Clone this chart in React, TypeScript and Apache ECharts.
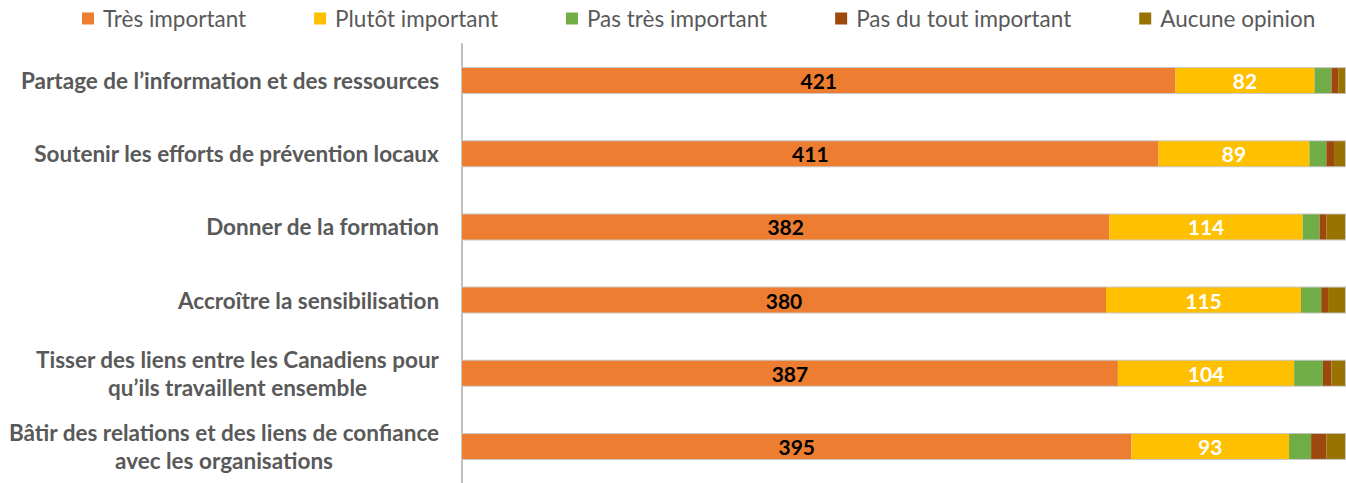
import React, { useEffect, useRef } from "react";
import * as echarts from "echarts";

const categories = [
  "Partage de l’information et des ressources",
  "Soutenir les efforts de prévention locaux",
  "Donner de la formation",
  "Accroître la sensibilisation",
  "Tisser des liens entre les Canadiens pour\nqu’ils travaillent ensemble",
  "Bâtir des relations et des liens de confiance\navec les organisations",
];

const seriesNames = [
  "Très important",
  "Plutôt important",
  "Pas très important",
  "Pas du tout important",
  "Aucune opinion",
];

const tresImportant = [421, 411, 382, 380, 387, 395];
const plutotImportant = [82, 89, 114, 115, 104, 93];
const pasTresImportant = [10, 10, 10, 12, 17, 13];
const pasDuToutImportant = [4, 5, 4, 4, 5, 9];
const aucuneOpinion = [4, 6, 11, 10, 8, 11];

const colors = ["#ED7D31", "#FFC000", "#70AD47", "#9E480E", "#997300"];
const FONT = "Lato";
const LABEL_SIZE = 22.5;

export default function App() {
  const ref = useRef<HTMLDivElement>(null);

  useEffect(() => {
    if (!ref.current) return;
    const chart = echarts.init(ref.current, undefined, { renderer: "svg" });

    const canvas = document.createElement("canvas");
    const ctx = canvas.getContext("2d")!;
    ctx.font = `bold ${LABEL_SIZE}px ${FONT}`;
    const rich: Record<string, any> = {};
    categories.forEach((c, i) => {
      const w = Math.max(...c.split("\n").map((l) => ctx.measureText(l).width));
      rich["c" + i] = {
        width: Math.ceil(w) + 1,
        align: "center",
        fontFamily: FONT,
        fontWeight: "bold",
        fontSize: LABEL_SIZE,
        color: "#595959",
        lineHeight: 28,
      };
    });

    const dataSets = [tresImportant, plutotImportant, pasTresImportant, pasDuToutImportant, aucuneOpinion];
    const total = tresImportant.map((_, i) => dataSets.reduce((s, d) => s + d[i], 0));
    const maxTotal = Math.max(...total);

    chart.setOption({
      animation: false,
      color: colors,
      legend: {
        top: 2,
        left: 77,
        width: 1265,
        itemWidth: 12,
        itemHeight: 12,
        itemGap: 68,
        icon: "rect",
        textStyle: { fontFamily: FONT, fontSize: 22.5, color: "#595959", padding: [0, 0, 0, 4] },
        data: seriesNames,
      },
      grid: { left: 462, right: 1, top: 44, height: 441, containLabel: false },
      xAxis: { type: "value", min: 0, max: maxTotal, show: false },
      yAxis: {
        type: "category",
        inverse: true,
        data: categories,
        axisLine: { lineStyle: { color: "#BFBFBF", width: 2 } },
        axisTick: { length: 6, lineStyle: { color: "#BFBFBF", width: 2 } },
        axisLabel: {
          margin: 22,
          formatter: (v: string, i: number) =>
            v
              .split("\n")
              .map((l) => `{c${i}|${l}}`)
              .join("\n"),
          rich,
        },
      },
      series: dataSets.map((d, k) => ({
        name: seriesNames[k],
        type: "bar",
        stack: "total",
        barWidth: 25,
        data: d,
        showBackground: k === 0,
        backgroundStyle: { color: "transparent", borderColor: "#C8C8C8", borderWidth: 2 },
        label:
          k < 2
            ? {
                show: true,
                position: "inside",
                fontFamily: FONT,
                fontWeight: "bold",
                fontSize: 21,
                color: k === 0 ? "#000000" : "#FFFFFF",
              }
            : { show: false },
      })),
    });

    return () => chart.dispose();
  }, []);

  return (
    <div
      ref={ref}
      style={{ position: "fixed", left: 0, top: 0, width: 1346, height: 483, background: "#fff" }}
    />
  );
}
